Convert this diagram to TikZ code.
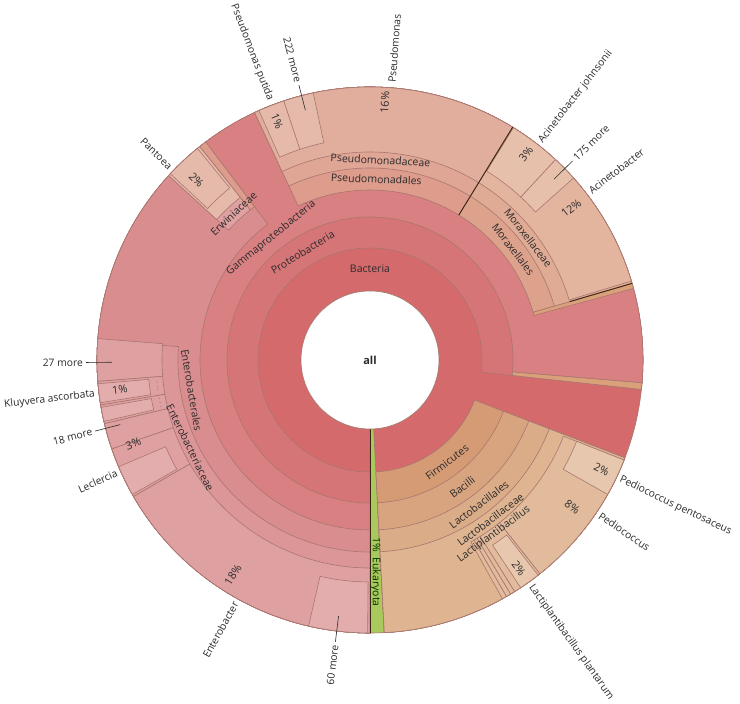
\documentclass[tikz,border=0pt]{standalone}
\usepackage{fontspec}
\setmainfont{Open Sans}
\definecolor{linec}{HTML}{A8766E}
\definecolor{bact}{HTML}{D46A6C}
\definecolor{proteo}{HTML}{D67577}
\definecolor{gamma}{HTML}{D98082}
\definecolor{psord}{HTML}{DD9C8C}
\definecolor{psfam}{HTML}{DFA595}
\definecolor{psgen}{HTML}{E1AE9E}
\definecolor{pssp}{HTML}{E5BAAB}
\definecolor{morord}{HTML}{DDA28C}
\definecolor{morfam}{HTML}{DFAB95}
\definecolor{acigen}{HTML}{E3B59F}
\definecolor{acisp}{HTML}{E7C0AC}
\definecolor{entord}{HTML}{DA8D8F}
\definecolor{entfam}{HTML}{DC9698}
\definecolor{entgen}{HTML}{DFA0A1}
\definecolor{entsp}{HTML}{E3ADAD}
\definecolor{firm}{HTML}{D49B75}
\definecolor{bacil}{HTML}{D8A47F}
\definecolor{lacord}{HTML}{DBAC88}
\definecolor{lacfam}{HTML}{DEB491}
\definecolor{lacgen}{HTML}{E1BB9B}
\definecolor{lacsp}{HTML}{E7C8AF}
\definecolor{sliver}{HTML}{D9A07A}
\definecolor{euk}{HTML}{A9C95C}
\definecolor{txt}{HTML}{2B2B2B}
\tikzset{
  wd/.style={draw=linec,line width=0.6pt},
  olab/.style={font=\fontsize{10.3}{12}\selectfont,text=txt,inner sep=1pt},
  ilab/.style={font=\fontsize{10.5}{12}\selectfont,text=txt,inner sep=0pt},
  plab/.style={font=\fontsize{11}{12}\selectfont,text=txt,inner sep=0pt},
  lead/.style={draw=txt,line width=0.6pt}
}
\newcommand\wdg[5]{\filldraw[wd,fill=#5] (#1:#3pt) arc[start angle=#1,end angle=#2,radius=#3pt] -- (#2:#4pt) arc[start angle=#2,end angle=#1,radius=#4pt] -- cycle;}
\newcommand\olR[4]{\node[olab,rotate=#2,anchor=west] (#1) at (#2:#3pt) {#4};}
\newcommand\olL[4]{\node[olab,rotate={#2+180},anchor=east] (#1) at (#2:#3pt) {#4};}
\newcommand\ldr[2]{\coordinate (#1a) at (#2:258pt); \coordinate (#1b) at (#2:284pt); \draw[lead] (#1a) -- (#1b);}
\begin{document}
\begin{tikzpicture}[x=1pt,y=1pt]
\useasboundingbox (0,0) rectangle (740,704);
\fill[white] (0,0) rectangle (740,704);
\begin{scope}[shift={(370,344)}]
\wdg{-87}{270}{69}{273}{bact}
\wdg{270}{273}{69}{273}{euk}
\wdg{-6.2}{270}{112}{273}{proteo}
\wdg{-87}{-21}{112}{273}{firm}
\wdg{-4.8}{270}{143}{273}{gamma}
\wdg{-6.2}{-4.8}{143}{273}{sliver}
\wdg{-87}{-21}{143}{273}{bacil}
\wdg{16.3}{58.5}{170}{273}{morord}
\wdg{15.2}{16.3}{170}{273}{sliver}
\wdg{58.5}{115}{170}{273}{psord}
\wdg{127}{270}{170}{273}{entord}
\wdg{-87}{-21}{170}{273}{lacord}
\wdg{16.3}{58.5}{192}{273}{morfam}
\wdg{58.5}{115}{192}{273}{psfam}
\wdg{127}{128.6}{192}{273}{psord}
\wdg{128.6}{137.5}{192}{273}{entgen}
\wdg{176}{270}{192}{273}{entfam}
\wdg{-87}{-21}{192}{273}{lacfam}
\wdg{16.8}{58.5}{208}{273}{acigen}
\wdg{58.5}{115}{208}{273}{psgen}
\wdg{128.6}{137.5}{208}{273}{pssp}
\wdg{175.5}{184.5}{208}{273}{entgen}
\wdg{184.5}{189.5}{208}{273}{entgen}
\wdg{189.5}{193.5}{208}{273}{entgen}
\wdg{193.5}{199}{208}{273}{entgen}
\wdg{199}{210}{208}{273}{entgen}
\wdg{210}{270}{208}{273}{entgen}
\wdg{-61}{-60}{208}{273}{lacgen}
\wdg{-60}{-59}{208}{273}{lacgen}
\wdg{-59}{-58}{208}{273}{lacgen}
\wdg{-58}{-51.5}{208}{273}{lacgen}
\wdg{-51.5}{-21.5}{208}{273}{lacgen}
\wdg{47.2}{58.3}{222}{273}{acisp}
\wdg{41.8}{47.2}{222}{273}{acisp}
\wdg{108.4}{114}{222}{273}{pssp}
\wdg{102}{108.4}{222}{273}{pssp}
\wdg{129.2}{137}{222}{273}{pssp}
\wdg{185}{189}{222}{273}{entsp}
\wdg{190}{193}{222}{273}{entsp}
\wdg{203}{209.5}{222}{273}{entsp}
\wdg{257}{269.5}{222}{273}{entsp}
\wdg{-56.5}{-52}{222}{273}{lacsp}
\wdg{-29.5}{-21.5}{222}{273}{lacsp}
\draw[draw=black!70!brown,line width=0.9pt] (58.5:170pt) -- (58.5:273pt);
\draw[draw=black!70!brown,line width=0.9pt] (16.3:208pt) -- (16.3:273pt);
\draw[draw=black!70!brown,line width=0.8pt] (270:69pt) -- (270:273pt);
\filldraw[wd,fill=white] (0,0) circle[radius=69pt];
\node[font=\bfseries\fontsize{11}{12}\selectfont,text=txt] (all) at (0,0) {all};
\node[ilab] (lbact) at (90:91pt) {Bacteria};
\node[ilab,rotate=32] (lprot) at (122:127pt) {Proteobacteria};
\node[ilab,rotate=39] (lgam) at (129:157pt) {Gammaproteobacteria};
\node[ilab,rotate=-2] (lpso) at (88:181pt) {Pseudomonadales};
\node[ilab,rotate=-3] (lpsf) at (87:200pt) {Pseudomonadaceae};
\node[ilab,rotate=-52.3] (lmoo) at (37.7:181pt) {Moraxellales};
\node[ilab,rotate=-52.3] (lmof) at (37.7:200pt) {Moraxellaceae};
\node[ilab,rotate=43] (lerw) at (133:200pt) {Erwiniaceae};
\node[ilab,rotate=-80.4] (lento) at (189.6:181pt) {Enterobacterales};
\node[ilab,rotate=-64] (lentf) at (206:200pt) {Enterobacteriaceae};
\node[ilab,rotate=37] (lfirm) at (-53:128pt) {Firmicutes};
\node[ilab,rotate=37] (lbac) at (-54:157pt) {Bacilli};
\node[ilab,rotate=37] (llo) at (-53:181pt) {Lactobacillales};
\node[ilab,rotate=37] (llf) at (-53:200pt) {Lactobacillaceae};
\node[ilab,rotate=36] (llg) at (-54.6:214pt) {Lactiplantibacillus};
\node[ilab,rotate=-90,text=black!80!green] (leuk) at (-88.5:212pt) {1\%\hspace{6pt}Eukaryota};
\node[plab,rotate=86.7] (p1) at (86.7:258pt) {16\%};
\node[plab,rotate=291.6] (p2) at (111.3:256pt) {1\%};
\node[plab,rotate=314] (p3) at (134:250pt) {2\%};
\node[plab,rotate=52.8] (p4) at (52.8:258pt) {3\%};
\node[plab,rotate=37] (p5) at (37:252pt) {12\%};
\node[plab,rotate=-25.3] (p6) at (-25.3:256pt) {2\%};
\node[plab,rotate=-36] (p7) at (-36:250pt) {8\%};
\node[plab,rotate=-54.5] (p8) at (-54.5:256pt) {2\%};
\node[plab,rotate=57.5] (p9) at (237.5:255pt) {18\%};
\node[plab,rotate=6.8] (p10) at (186.8:252pt) {1\%};
\node[plab,rotate=19.5] (p11) at (199.5:251pt) {3\%};
\node[ilab,font=\fontsize{7}{8}\selectfont,rotate=97] (d1) at (187:214pt) {$\cdots$};
\node[ilab,font=\fontsize{7}{8}\selectfont,rotate=102] (d2) at (191.5:214pt) {$\cdots$};
\olL{o1}{111}{277}{Pseudomonas putida}
\ldr{m1}{104.5}
\olL{o2}{104.5}{286}{222 more}
\olR{o3}{85.5}{277}{Pseudomonas}
\olL{o4}{136}{276}{Pantoea}
\olR{o5}{52}{276}{Acinetobacter johnsonii}
\ldr{m2}{44.5}
\olR{o6}{44.5}{286}{175 more}
\olR{o7}{37.5}{276}{Acinetobacter}
\olR{o8}{-25.5}{276}{Pediococcus pentosaceus}
\olR{o9}{-34}{276}{Pediococcus}
\olR{o10}{-54.5}{276}{Lactiplantibacillus plantarum}
\ldr{m3}{263}
\olL{o11}{263}{286}{60 more}
\olL{o12}{241}{276}{Enterobacter}
\olL{o13}{204}{276}{Leclercia}
\ldr{m4}{194.5}
\olL{o14}{194.5}{286}{18 more}
\olL{o15}{187}{276}{Kluyvera ascorbata}
\ldr{m5}{180.5}
\olL{o16}{180.5}{286}{27 more}
\end{scope}
\end{tikzpicture}
\end{document}
